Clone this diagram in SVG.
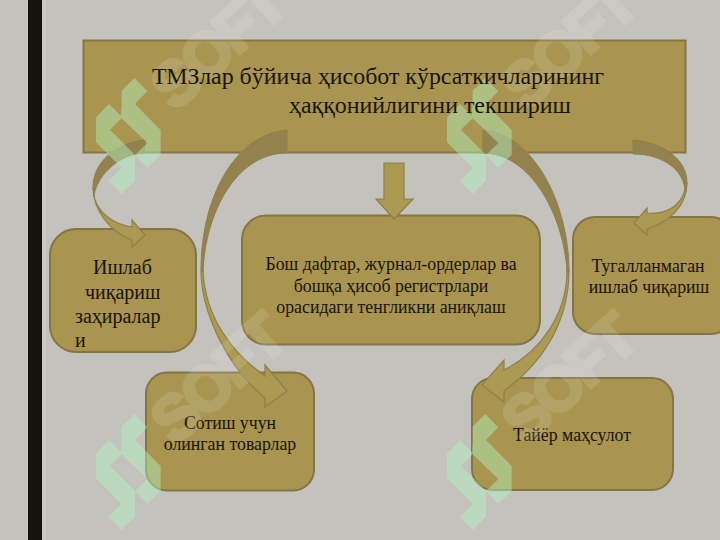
<svg xmlns="http://www.w3.org/2000/svg" width="720" height="540" viewBox="0 0 720 540">
<defs>
<style>
.box{fill:#a9954f;stroke:#857445;stroke-width:2}
.arr{fill:#ac9952;stroke:#8f7f4b;stroke-width:1.2;stroke-linejoin:miter}
.dk{fill:#93824e;stroke:#8f7f4b;stroke-width:1}
text{font-family:"Liberation Serif","Times New Roman",serif;fill:#1a130a}
.t1{font-size:23.900px}
.t2{font-size:17.800px}
.t3{font-size:20px}
.wm{font-family:"Liberation Sans",Arial,sans-serif;font-weight:700;font-size:62px;letter-spacing:-3px;fill:#fff;stroke:#fff;stroke-width:4;opacity:.12}
.lg{fill:#b2f5c3;fill-rule:evenodd;opacity:.45}
</style>
<path id="logo" transform="scale(.3333)" d="M133 27L172 67L135 105L212 183V258L172 297L135 258V335L95 375L57 335L95 297L18 220V145L57 105L93 141L95 107V65ZM95 148L60 182L135 258L172 222Z"/>
</defs>
<rect width="720" height="540" fill="#c4c2bc"/>
<rect x="28" width="14" height="540" fill="#14140c"/>
<rect x="42" width="4" height="540" fill="#cbc9c3"/>
<g id="node-title">
<rect class="box" x="83.500" y="40.500" width="602" height="112"/>
</g>
<g id="node-ishlab">
<rect class="box" x="50" y="229" width="146" height="123" rx="26"/>
<text class="t3" x="93" y="274">Ишлаб</text>
<text class="t3" x="85" y="299">чиқариш</text>
<text class="t3" x="75" y="323">заҳиралар</text>
<text class="t3" x="75" y="347">и</text>
</g>
<g id="node-bosh">
<rect class="box" x="242" y="215.500" width="298" height="129" rx="24"/>
<text class="t2" x="391" y="270" text-anchor="middle">Бош дафтар, журнал-ордерлар ва</text>
<text class="t2" x="391" y="292" text-anchor="middle">бошқа ҳисоб регистрлари</text>
<text class="t2" x="391" y="313" text-anchor="middle">орасидаги тенгликни аниқлаш</text>
</g>
<g id="node-tugal">
<rect class="box" x="573" y="217" width="160" height="117" rx="22"/>
<text class="t2" x="648" y="272" text-anchor="middle">Тугалланмаган</text>
<text class="t2" x="649" y="293" text-anchor="middle">ишлаб чиқариш</text>
</g>
<g id="node-sotish">
<rect class="box" x="146" y="372.500" width="168" height="118" rx="21"/>
<text class="t2" x="230" y="429" text-anchor="middle">Сотиш учун</text>
<text class="t2" x="230" y="450" text-anchor="middle">олинган товарлар</text>
</g>
<g id="node-tayyor">
<rect class="box" x="472" y="378" width="201" height="112" rx="21"/>
<text class="t2" x="572" y="441" text-anchor="middle">Тайёр маҳсулот</text>
</g>
<g id="connectors">
<path class="arr" d="M384 163H404V199H413L394 219L376 199H384Z"/>
<path class="arr" d="M93 187C93 210 110 232 132 240V247L145 235L132 220V227C112 224 98 212 94 197Z"/>
<path class="dk" d="M145 140C115 143 93 163 93 187C93 190 94 194 94 197C95 180 115 154 145 153Z"/>
<path class="arr" d="M687 183C687 205 670 222 647 229V235L634 223L647 208V213C665 215 680 207 685 190Z"/>
<path class="dk" d="M633 140C665 143 687 160 687 183L685 192C685 172 665 154 633 154Z"/>
<path class="arr" d="M201 270C201 310 225 365 265 398V407L287 391L265 365V376C235 355 205 320 203 270Z"/>
<path class="dk" d="M287 130C233 135 201 200 201 270L203 272C205 215 235 153 287 153Z"/>
<path class="arr" d="M569 270C569 325 540 365 504 391V402L482 385L504 360V370C540 352 567 315 567 270Z"/>
<path class="dk" d="M483 130C535 135 569 205 569 272L567 272C564 215 530 153 483 153Z"/>
</g>
<g id="watermarks">
<text class="wm" transform="translate(175 112) rotate(-42)">SOFT</text>
<text class="wm" transform="translate(526 112) rotate(-42)">SOFT</text>
<text class="wm" transform="translate(175 446) rotate(-42)">SOFT</text>
<text class="wm" transform="translate(526 446) rotate(-42)">SOFT</text>
<use class="lg" href="#logo" x="90" y="69"/>
<use class="lg" href="#logo" x="441" y="69"/>
<use class="lg" href="#logo" x="90" y="405"/>
<use class="lg" href="#logo" x="441" y="405"/>
</g>
<g id="node-title-label">
<text class="t1" x="152" y="84">ТМЗлар бўйича ҳисобот кўрсаткичларининг</text>
<text class="t1" x="289" y="113">ҳаққонийлигини текшириш</text>
</g>
</svg>
